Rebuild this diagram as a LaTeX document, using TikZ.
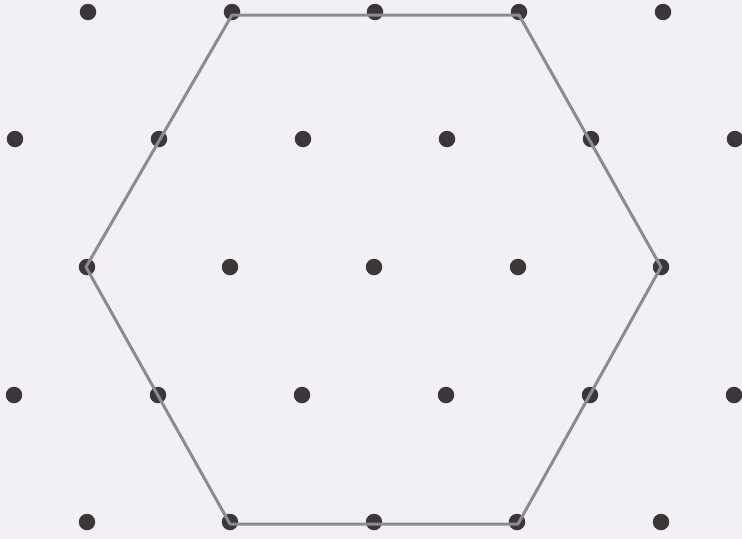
\documentclass[tikz,border=0pt]{standalone}
\definecolor{bg}{RGB}{242,240,245}
\definecolor{dotc}{RGB}{58,54,58}
\definecolor{hexc}{RGB}{140,139,143}
\begin{document}
\begin{tikzpicture}[x=1pt,y=-1pt,
  latdot/.style={circle,fill=dotc,inner sep=0pt,minimum size=16.5pt},
  hexline/.style={draw=hexc,line width=3pt,line join=round,line cap=round}]
\fill[bg] (0,0) rectangle (742,539);
\useasboundingbox (0,0) rectangle (742,539);
% row 1
\foreach \x [count=\i] in {88,232,375,519,663} \node[latdot] (a\i) at (\x,12) {};
% row 2
\foreach \x [count=\i] in {15,159,303,447,591,735} \node[latdot] (b\i) at (\x,139) {};
% row 3
\foreach \x [count=\i] in {87,230,374,518,661} \node[latdot] (c\i) at (\x,267) {};
% row 4
\foreach \x [count=\i] in {14,158,302,446,590,734} \node[latdot] (d\i) at (\x,395) {};
% row 5
\foreach \x [count=\i] in {87,230,374,517,661} \node[latdot] (e\i) at (\x,522) {};
% hexagon corners
\coordinate (h1) at (232,15);
\coordinate (h2) at (519,15);
\coordinate (h3) at (661,267);
\coordinate (h4) at (518,524);
\coordinate (h5) at (230,524);
\coordinate (h6) at (86,267);
\draw[hexline] (h1) -- (h2) -- (h3) -- (h4) -- (h5) -- (h6) -- cycle;
\end{tikzpicture}
\end{document}
